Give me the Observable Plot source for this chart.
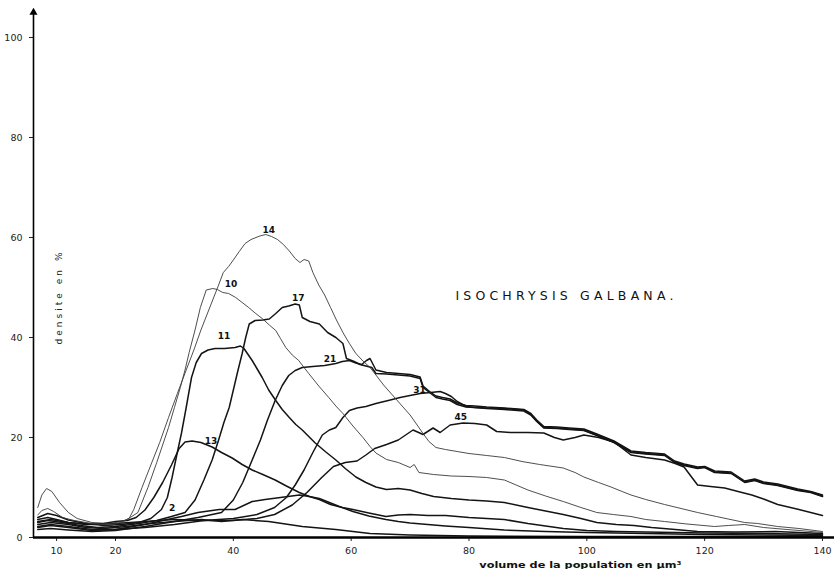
<!DOCTYPE html>
<html><head><meta charset="utf-8">
<script src="https://cdn.jsdelivr.net/npm/d3@7"></script>
<script src="https://cdn.jsdelivr.net/npm/@observablehq/plot@0.6"></script>
<style>body{margin:0;background:#fff}</style>
</head><body><div id="chart"></div>
<script>
// ---- data ----
const xTicks = [10, 20, 40, 60, 80, 100, 120, 140];
const yTicks = [0, 20, 40, 60, 80, 100];
const titleText = "ISOCHRYSIS GALBANA.";
const yLabelText = "densite en %";
const xLabelText = "volume de la population en µm³";

const curveNames = ["14", "10", "11", "13", "17", "21", "31", "45", "a", "b"];
const labelTexts = ["14", "10", "11", "13", "17", "21", "31", "45", "2"];
const labelX = [46.0, 39.6, 38.4, 36.2, 51.0, 56.4, 71.6, 78.6, 29.6];
const labelY = [61.4, 50.6, 40.2, 19.2, 47.8, 35.6, 29.4, 24.0, 5.8];

const curve14 = [[6.8,6],[7.5,8.5],[8.3,9.8],[9.2,9.2],[10.5,7],[12,5],[13.5,3.8],[16,3],[19,2.8],[21,3.2],[22.3,3.8],[23.1,5.6],[24.5,10],[26,14.5],[27.5,19],[29,24],[30.5,28.8],[32,33.5],[33.3,37.5],[34.5,41.5],[35.5,44.5],[36.5,47.5],[37.4,50.2],[38.3,53],[39.2,54.2],[40,55.5],[41,57.2],[42,58.8],[43,59.6],[44.5,60.3],[45.5,60.6],[46.5,60.2],[47.5,59.6],[48.5,58.6],[49.5,57.3],[50.5,55.8],[51.3,55],[52,55.6],[52.8,55.3],[53.5,53],[54.5,50.5],[55.5,48.5],[56.5,46],[57.5,43.5],[58.6,41],[59.7,38.8],[60.8,36.8],[62,35.3],[63.2,34],[64.2,32.5],[65.5,30.5],[67,28.5],[68.5,26.5],[70,24.5],[71.2,22.5],[72.2,20.8],[73.2,19.2],[74.4,18],[76,17.6],[78,17.2],[80,16.8],[83,16.4],[86,16],[89,15.2],[92,14.6],[96,13.9],[98,13],[99.5,12.1],[102,11],[104.1,10.1],[106,9.2],[107.5,8.5],[110,7.6],[113.2,6.6],[116,5.8],[118.8,5],[122,4.2],[126.8,3],[129,2.8],[132.4,2.2],[136,1.8],[140,1.2]];
const curve10 = [[6.8,4.5],[7.5,5.4],[8.5,5.8],[9.5,5.2],[11,4],[13,3.4],[16,2.8],[19,2.5],[21,3],[22.5,4],[23.8,5],[25.5,10],[27,15],[28,18.5],[29,22],[30,26],[31,30],[31.8,33.5],[32.5,37],[33.5,41.5],[34.4,46],[35.4,49.5],[36.5,49.8],[37.3,49.6],[38.2,49],[39.2,48.8],[40.4,48],[41.5,47],[42.6,46],[43.8,44.8],[45,43.7],[46.1,42.5],[47.2,41.4],[48,39.8],[48.9,38],[50,36.5],[51.1,35.4],[52,34],[52.8,32.8],[54.5,30.3],[56.2,28],[57.4,26.3],[58.6,24.8],[60.3,22.3],[62,20],[63.2,18.2],[64.2,16.9],[66,15.6],[68,15],[70,14],[70.7,14.6],[71.5,13],[74,12.6],[77,12.3],[80,12.2],[83,12],[86,11.5],[88,10.5],[90,9.5],[93,8.3],[96,7.2],[99,6],[101.7,5],[104.5,4.6],[107.5,4.2],[110,3.6],[113.2,3.2],[117,2.7],[121.7,2.2],[124,2.4],[126.8,2.6],[130,2],[135,1.5],[140,1]];
const curve11 = [[6.8,4],[8.5,4.8],[10,4.4],[12,3.5],[15,2.8],[18,2.4],[21,2.6],[24,3],[26,3.8],[27.8,5.6],[28.8,8],[29.6,12],[30.4,16.5],[31.2,20.9],[32,26],[32.9,32],[33.7,35],[34.6,36.8],[35.7,37.5],[36.9,37.8],[38.5,37.8],[40.3,38],[41.2,38.3],[41.8,37.8],[42.5,36.6],[43.2,35.4],[44,33.8],[44.9,32],[46,29.5],[47.2,27.4],[48.3,25.6],[49.5,24],[50.6,22.6],[51.7,21.5],[52.8,20.2],[53.9,18.9],[55.6,17.2],[57.4,15.5],[59,13.8],[60.8,12.1],[62.5,11],[64.2,10.1],[66,9.6],[68,9.8],[70,9.5],[72,8.8],[74,8.2],[77,7.8],[80,7.5],[83,7.3],[86,7],[90,6],[93,5.3],[96,4.6],[99,3.8],[101.7,3],[105,2.6],[108,2.4],[111,2],[115,1.6],[118.8,1.2],[125,1.1],[132,1.2],[140,0.8]];
const curve13 = [[6.8,3.6],[8.5,4],[10,3.6],[12,3],[15,2.6],[18,2.8],[20,3.2],[22,3.4],[23.5,4],[25,5.5],[26.5,8],[28,11],[29.5,14.5],[30.8,17.8],[31.8,19.1],[33,19.3],[34.5,19],[36.4,18.1],[38,17],[39.8,15.9],[41.5,14.6],[43.2,13.5],[45,12.6],[47.1,11.5],[49,10.3],[51.2,9],[52.9,8.2],[54.6,7.6],[56.5,6.6],[58.5,6],[60.3,5.6],[63,4.9],[65.9,4.2],[68,4.5],[70,4.6],[73,4.4],[76,4.4],[80,4],[83,3.8],[86,3.6],[90,2.8],[93,2.3],[96,1.8],[100,1.4],[105,1.2],[110,1.1],[120,0.9],[130,0.8],[140,0.6]];
const curve17 = [[6.8,3],[8.5,3.4],[11,3],[14,2.4],[17,2],[20,2.2],[24,2.8],[27,3.4],[29.5,4.2],[31.8,5],[33.5,7.5],[35,11.5],[36.4,15.5],[37.5,19.5],[38.4,23],[39.3,26],[40.1,30],[40.8,33.5],[41.5,36.8],[42.1,40],[42.7,42.7],[43.7,43.4],[45,43.5],[46.1,43.7],[47.2,44.8],[48.3,46],[49.4,46.3],[50.5,46.7],[51.2,46.5],[51.7,44],[53,43.2],[54.6,42.7],[56,41],[57.4,40],[58.6,38.8],[59.2,35.8],[60.5,35.2],[61.5,34.6],[62.5,34.3],[63.5,34],[64.2,32.8],[66,32.7],[68,32.5],[70,32.3],[71.7,31.8],[72.2,30],[73.3,29],[74.4,28],[75.5,27.7],[76.8,27.4],[78,26.6],[79.5,26.1],[81,26],[83,25.8],[86,25.6],[89.3,25.3],[90.5,24.5],[91.5,23.2],[92.7,21.9],[94.9,21.8],[97,21.6],[99.5,21.4],[101.7,20.4],[104.6,19],[107.5,17],[110,16.7],[113.2,16.4],[114.9,15],[116.5,14.4],[118.8,13.8],[120,14],[121.7,13],[124.5,12.8],[126.8,11],[128.5,11.4],[130,10.8],[132.4,10.4],[135.8,9.4],[138,9],[140,8.2]];
const curve21 = [[6.8,2.6],[9,3],[12,2.6],[15,2],[18,1.8],[22,2.2],[26,2.8],[30,3.2],[34,4],[38,5],[40,7.5],[41.6,11],[43.2,15.5],[44.6,19.5],[45.8,23.5],[47.1,27.4],[48.3,30.4],[49.4,32.4],[50.5,33.4],[51.7,34],[53.5,34.2],[55.5,34.4],[57.4,34.8],[58.5,35.2],[59.7,35.4],[60.8,34.9],[61.8,34.6],[62.6,35.4],[63.2,35.8],[64.2,33.5],[66,33],[68,32.8],[70,32.6],[71.7,32.1],[72.2,30.3],[73.3,29.2],[74.4,28.3],[75.5,28],[76.8,27.7],[78,26.9],[79.5,26.4],[81,26.3],[83,26.1],[86,25.9],[89.3,25.6],[90.5,24.8],[91.5,23.5],[92.7,22.2],[94.9,22.1],[97,21.9],[99.5,21.7],[101.7,20.7],[104.6,19.3],[107.5,17.3],[110,17],[113.2,16.7],[114.9,15.3],[116.5,14.7],[118.8,14.1],[120,14.2],[121.7,13.3],[124.5,13.1],[126.8,11.3],[128.5,11.7],[130,11.1],[132.4,10.7],[135.8,9.7],[138,9.2],[140,8.5]];
const curve31 = [[6.8,3.2],[9,3.6],[12,3],[16,2.6],[20,2.8],[25,3.2],[30,3.6],[35,3.4],[40,3.8],[44,4.6],[47,6],[49,8],[50.5,10.5],[52,13.5],[53.5,17],[55.1,20.5],[56.3,21.5],[57.4,22],[58.6,24],[59.7,25.4],[61,25.9],[62.5,26.2],[64.2,26.8],[66.3,27.4],[68.3,28],[70,28.4],[71.7,28.8],[73.5,29],[75.1,29.2],[76,28.8],[77,28.2],[78,27.2],[79.5,26.2],[81,26],[83,25.9],[86,25.8],[89.3,25.5],[90.5,24.6],[91.5,23.3],[92.7,22],[94.9,21.9],[97,21.7],[99.5,21.5],[101.7,20.5],[104.6,19.1],[107.5,17.1],[110,16.8],[113.2,16.5],[114.9,15.1],[116.5,14.5],[118.8,13.9],[120,14.1],[121.7,13.1],[124.5,12.9],[126.8,11.1],[128.5,11.5],[130,10.9],[132.4,10.5],[135.8,9.5],[138,9.1],[140,8.3]];
const curve45 = [[6.8,2.2],[9,2.6],[12,2.2],[16,1.6],[20,1.6],[25,2],[30,2.6],[35,3.4],[40,3.4],[44,3.8],[47,4.6],[50,6.5],[52.5,9],[55,12],[57,14.2],[59,15],[61,15.3],[62.5,16.5],[64,17.8],[66,18.6],[68,19.5],[70.5,21.5],[72.2,20.6],[73.9,21.9],[75.1,21],[76.8,22.5],[79,22.9],[81,22.8],[83,22.5],[84.7,21.2],[87,21],[90,21],[92.7,20.9],[94.5,20],[96,19.5],[98,20],[99.5,20.5],[102,20],[104.6,19.1],[107.5,16.5],[110,16],[113.2,15.5],[115,14.8],[116.5,14.1],[118.8,10.5],[121,10.2],[123.4,9.9],[126,9.1],[128,8.5],[130,7.7],[132.4,6.6],[136,5.6],[140,4.4]];
const curveA = [[6.8,2],[9,2.4],[12,2],[16,1.4],[20,1.6],[25,2.6],[28,3.4],[31.2,4.2],[34,5],[37.6,5.6],[40.3,5.6],[43.2,7.2],[45.4,7.6],[48,8],[51.2,8.5],[52.9,8.2],[54.6,7.8],[56.3,7],[58,6.2],[60.3,5.2],[63,4.3],[65.9,3.6],[68,3.2],[70,2.9],[73,2.6],[76,2.3],[80,2],[86,1.5],[93,1.2],[100,1],[110,0.8],[120,0.6],[130,0.5],[140,0.4]];
const curveB = [[6.8,1.6],[9,1.8],[12,1.5],[16,1.2],[20,1.4],[25,2.2],[30,3.2],[34.6,3.6],[38,3.2],[41.5,3.6],[46,3.2],[51.7,2.2],[57.4,1.6],[63.2,0.8],[70,0.5],[80,0.3],[100,0.2],[140,0.2]];

const curvePoints = [curve14, curve10, curve11, curve13, curve17, curve21, curve31, curve45, curveA, curveB];
const thinCurves = ["14", "10"];

// ---- tables built from the arrays ----
const rows = curveNames.flatMap((name, i) =>
  curvePoints[i].map(([x, y]) => ({curve: name, x, y})));
const labels = labelTexts.map((t, i) => ({t, x: labelX[i], y: labelY[i]}));

const xDomain = [6.08, 142.04];
const yDomain = [0, 107.4];

const chart = Plot.plot({
  width: 834,
  height: 569,
  marginLeft: 33,
  marginRight: 0,
  marginTop: 0,
  marginBottom: 32,
  x: {domain: xDomain},
  y: {domain: yDomain},
  style: {background: "#fff", fontFamily: "DejaVu Sans, sans-serif"},
  marks: [
    Plot.line(rows.filter(d => !thinCurves.includes(d.curve)), {
      x: "x", y: "y", z: "curve", stroke: "#141414", strokeWidth: 1.5
    }),
    Plot.line(rows.filter(d => thinCurves.includes(d.curve)), {
      x: "x", y: "y", z: "curve", stroke: "#3a3a3a", strokeWidth: 0.9
    }),
    Plot.axisY({ticks: yTicks, tickSize: 4, tickPadding: 7, fontSize: 9.5, label: null, color: "#222"}),
    Plot.axisX({ticks: xTicks, tickSize: 4, tickPadding: 6, fontSize: 9.5, label: null, color: "#222"}),
    Plot.ruleY([0], {stroke: "#000", strokeWidth: 2.6}),
    Plot.ruleX([xDomain[0]], {y1: 0, y2: 105, stroke: "#000", strokeWidth: 1.6}),
    Plot.dot([xDomain[0]], {x: d => d, y: 105, symbol: "triangle", r: 3, fill: "#000", stroke: "none"}),
    Plot.text(labels, {x: "x", y: "y", text: "t", fontSize: 9, fontWeight: "bold", fill: "#111"}),
    Plot.text([titleText], {x: 96.2, y: 48.4, text: d => d, fontSize: 12.5, fill: "#111", className: "ttl"}),
    Plot.text([yLabelText], {x: 10.4, y: 47.8, text: d => d, rotate: -90, fontSize: 9, fill: "#222", className: "yl"}),
    Plot.text([xLabelText], {x: 98.9, y: 0, dy: 28, text: d => d, fontSize: 8.5, fontWeight: "bold", fill: "#111", className: "xl"})
  ]
});
document.getElementById("chart").appendChild(chart);
d3.select(chart).selectAll(".ttl text").attr("textLength", 218).attr("lengthAdjust", "spacing");
d3.select(chart).selectAll(".yl text").attr("textLength", 92).attr("lengthAdjust", "spacing");
d3.select(chart).selectAll(".xl text").attr("textLength", 202).attr("lengthAdjust", "spacingAndGlyphs");
</script>
</body></html>
